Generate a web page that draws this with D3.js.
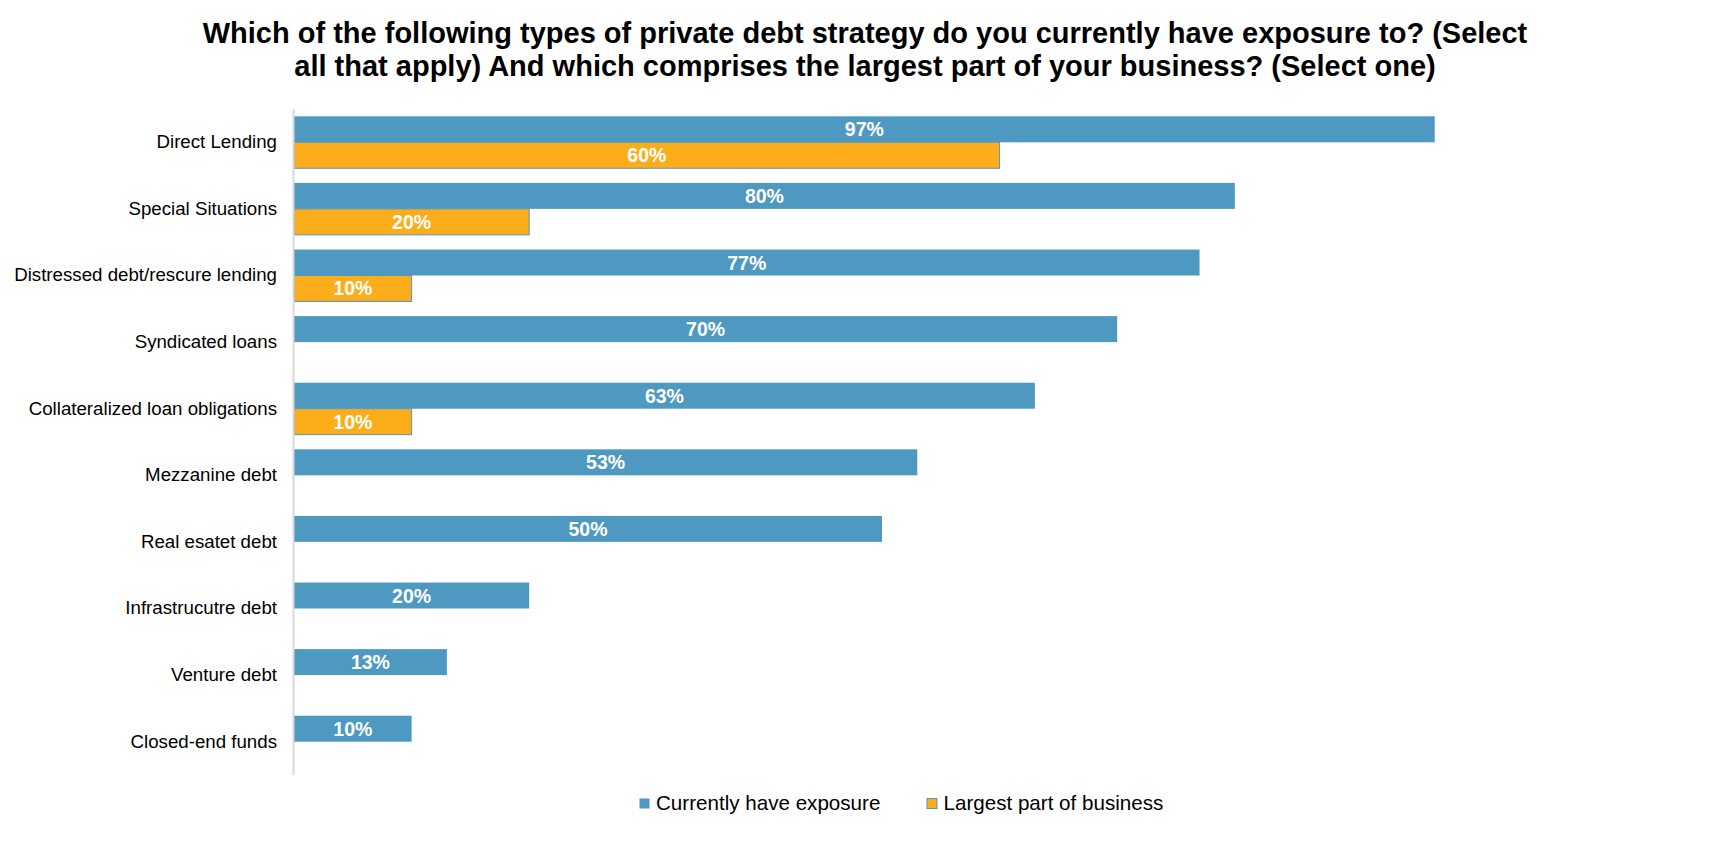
<!DOCTYPE html>
<html>
<head>
<meta charset="utf-8">
<script src="https://cdn.jsdelivr.net/npm/d3@7/dist/d3.min.js"></script>
<style>
  html, body { margin: 0; padding: 0; background: #ffffff; }
  svg { display: block; font-family: "Liberation Sans", Arial, sans-serif; }
</style>
</head>
<body>
<svg id="chart" width="1729" height="847"></svg>
<script>
const categories = [
  "Direct Lending",
  "Special Situations",
  "Distressed debt/rescure lending",
  "Syndicated loans",
  "Collateralized loan obligations",
  "Mezzanine debt",
  "Real esatet debt ",
  "Infrastrucutre debt",
  "Venture debt",
  "Closed-end funds"
];
const exposure = [97, 80, 77, 70, 63, 53, 50, 20, 13, 10];
const largest = [60, 20, 10, null, 10, null, null, null, null, null];
const seriesNames = ["Currently have exposure", "Largest part of business"];
const titleLines = [
  "Which of the following types of private debt strategy do you currently have exposure to? (Select",
  "all that apply) And which comprises the largest part of your business? (Select one)"
];

const colors = ["#4E99C1", "#FDAC1A"];
const W = 1729, H = 847;
const margin = { left: 294, right: 259, top: 109, bottom: 72 };

const svg = d3.select("#chart");

// Title
const title = svg.append("text")
  .attr("x", 865)
  .attr("y", 43)
  .attr("text-anchor", "middle")
  .style("font-size", "29px")
  .style("font-weight", "bold")
  .attr("fill", "#000");
titleLines.forEach((t, i) => {
  title.append("tspan").attr("x", 865).attr("dy", i === 0 ? 0 : 32.7).text(t);
});

const x = d3.scaleLinear().domain([0, 100]).range([margin.left, W - margin.right]);
const y = d3.scaleBand().domain(categories).range([margin.top, H - margin.bottom]).paddingInner(0.22).paddingOuter(0.11);
const sub = d3.scaleBand().domain([0, 1]).range([0, y.bandwidth()]);

// Category axis
const yAxis = d3.axisLeft(y).tickSize(0).tickPadding(17);
const gy = svg.append("g").attr("transform", `translate(${margin.left},0)`).call(yAxis);
gy.select(".domain").remove();
gy.selectAll("text")
  .style("font-size", "18.7px")
  .style("font-family", "'Liberation Sans', Arial, sans-serif")
  .attr("fill", "#000");

// Bars
const data = categories.map((c, i) => ({ c, vals: [exposure[i], largest[i]] }));
const groups = svg.append("g").selectAll("g").data(data).join("g")
  .attr("transform", d => `translate(0,${y(d.c)})`);

groups.each(function(d) {
  const g = d3.select(this);
  d.vals.forEach((v, si) => {
    if (v == null) return;
    g.append("rect")
      .attr("x", x(0))
      .attr("y", sub(si))
      .attr("width", x(v) - x(0))
      .attr("height", sub.bandwidth())
      .attr("fill", colors[si])
      .attr("stroke", si === 1 ? "#4E99C1" : "none")
      .attr("stroke-width", 1);
    g.append("text")
      .attr("x", (x(0) + x(v)) / 2)
      .attr("y", sub(si) + sub.bandwidth() / 2)
      .attr("dy", "0.36em")
      .attr("text-anchor", "middle")
      .style("font-size", "19.5px")
      .style("font-weight", "bold")
      .attr("fill", "#ffffff")
      .text(v + "%");
  });
});

// Vertical axis line
svg.append("line")
  .attr("x1", x(0) - 0.5).attr("x2", x(0) - 0.5)
  .attr("y1", margin.top).attr("y2", H - margin.bottom)
  .attr("stroke", "#d9d9d9").attr("stroke-width", 2);

// Legend
const legendItems = [
  { name: seriesNames[0], color: colors[0], sx: 639.5 },
  { name: seriesNames[1], color: colors[1], sx: 927 }
];
const lg = svg.append("g");
legendItems.forEach((it, i) => {
  lg.append("rect")
    .attr("x", it.sx).attr("y", 798.5)
    .attr("width", 10).attr("height", 10)
    .attr("fill", it.color)
    .attr("stroke", i === 1 ? "#4E99C1" : "none").attr("stroke-width", 1);
  lg.append("text")
    .attr("x", it.sx + 16.5).attr("y", 809.5)
    .style("font-size", "20.6px")
    .attr("fill", "#000")
    .text(it.name);
});
</script>
</body>
</html>
